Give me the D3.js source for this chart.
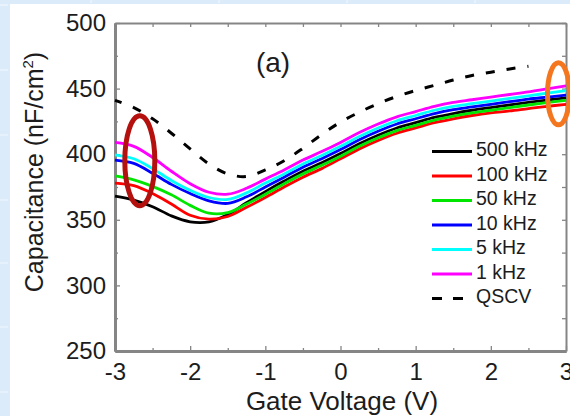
<!DOCTYPE html>
<html>
<head>
<meta charset="utf-8">
<script src="https://cdn.jsdelivr.net/npm/d3@7"></script>
<style>
  html, body { margin: 0; padding: 0; background: #dcebf9; }
  svg { display: block; }
  text { font-family: "Liberation Sans", Arial, sans-serif; fill: #1c1c1c; }
</style>
</head>
<body>
<svg id="chart" width="570" height="416"></svg>
<script>
// Gate voltage sweep (V) shared by the frequency curves
const gateVoltage = [-3, -2.75, -2.5, -2.25, -2, -1.75, -1.5, -1.25, -1, -0.75, -0.5, -0.25,
                     0, 0.25, 0.5, 0.75, 1, 1.25, 1.5, 1.75, 2, 2.25, 2.5, 2.75, 3];

// Capacitance (nF/cm^2) at each frequency
const cap500kHz = [368, 365, 360, 353, 348.5, 348.5, 354, 363, 371.5, 379.5, 387, 393.5,
                   400.5, 408, 414.5, 420, 424, 428, 431, 433.5, 435.5, 437.5, 439.5, 441.3, 443];
const cap100kHz = [378, 376, 370, 362, 353.5, 350.5, 352.5, 359.5, 367, 375, 382.5, 389,
                   396.5, 404, 410.5, 416, 420, 424, 427, 429.5, 431.5, 433, 434.8, 436.5, 438];
const cap50kHz  = [383.5, 380.5, 375.5, 369, 361, 355, 355.5, 362, 369.5, 377.5, 385, 391.5,
                   398.5, 406, 412.5, 418, 422, 426, 429, 431.5, 433.5, 435.5, 437.5, 439.3, 441];
const cap10kHz  = [395.5, 393, 385.5, 377, 370, 364.5, 362.5, 367.5, 375, 382.5, 390, 396.5,
                   403.5, 411, 417.5, 423, 427, 431, 434, 436, 438, 440, 442, 443.5, 445];
const cap5kHz   = [399.5, 396.5, 389, 380, 372.5, 367, 365.5, 370.5, 378, 385, 392.5, 399,
                   406, 413.5, 420, 425.5, 429.5, 433.5, 436.5, 438.5, 440.5, 442.5, 444.5, 446.5, 448.5];
const cap1kHz   = [409, 406, 397.5, 387, 377.5, 371, 369.5, 374, 381, 388, 395.5, 402,
                   409, 416.5, 423, 428.5, 432.5, 436.5, 439.5, 441.5, 443.5, 445.5, 447.5, 449.8, 452];

// Quasi-static C-V sweep
const qscvVoltage = [-3, -2.75, -2.5, -2.25, -2, -1.75, -1.5, -1.25, -1, -0.75, -0.5, -0.25,
                     0, 0.25, 0.5, 0.75, 1, 1.25, 1.5, 1.75, 2, 2.25, 2.5];
const capQSCV = [441, 435.5, 427, 416, 404, 392.5, 385, 383, 388, 395, 404.5, 415,
                 424.5, 432, 438.5, 444, 448.5, 452.5, 456.5, 460, 462.5, 465, 467];

const seriesNames  = ["500 kHz", "100 kHz", "50 kHz", "10 kHz", "5 kHz", "1 kHz", "QSCV"];
const seriesColors = ["#000000", "#ff0000", "#00e600", "#0000ff", "#00ffff", "#ff00ff", "#000000"];

const xTicks = [-3, -2, -1, 0, 1, 2, 3];
const xMinorTicks = [-2.5, -1.5, -0.5, 0.5, 1.5, 2.5];
const yTicks = [250, 300, 350, 400, 450, 500];
const yMinorTicks = [275, 325, 375, 425, 475];

const svg = d3.select("#chart");

// page backdrop: light blue frame around a white panel
svg.append("rect").attr("width", 570).attr("height", 416).attr("fill", "#dcebf9");
const marks = svg.append("g").attr("stroke", "#eef6fd").attr("stroke-width", 1.2);
[5, 70, 135, 200, 263, 327, 392].forEach(v =>
  marks.append("line").attr("x1", 0).attr("x2", 8).attr("y1", v).attr("y2", v));
[91, 219, 347, 475].forEach(v =>
  marks.append("line").attr("x1", v).attr("x2", v).attr("y1", 0).attr("y2", 3));
svg.append("rect").attr("x", 10).attr("y", 4).attr("width", 560).attr("height", 412).attr("fill", "#ffffff");

const x = d3.scaleLinear().domain([-3, 3]).range([115, 566]);
const y = d3.scaleLinear().domain([250, 500]).range([351, 23]);

const axisColor = "#858585";
function styleAxis(g, width) {
  g.select(".domain").attr("stroke", axisColor).attr("stroke-width", width);
  g.selectAll(".tick line").attr("stroke", axisColor).attr("stroke-width", 1.3);
}

// bottom axis with labels
const gx = svg.append("g").attr("transform", `translate(0,${y(250)})`)
  .call(d3.axisBottom(x).tickValues(xTicks).tickSize(-5).tickSizeOuter(0).tickPadding(12)
    .tickFormat(d => d < 0 ? "-" + Math.abs(d) : d));
gx.selectAll("text").attr("font-size", 24).attr("fill", "#1c1c1c");
styleAxis(gx, 3);
const gxm = svg.append("g").attr("transform", `translate(0,${y(250)})`)
  .call(d3.axisBottom(x).tickValues(xMinorTicks).tickSize(-3).tickSizeOuter(0).tickFormat(""));
styleAxis(gxm, 3);

// left axis with labels
const gy = svg.append("g").attr("transform", `translate(${x(-3)},0)`)
  .call(d3.axisLeft(y).tickValues(yTicks).tickSize(-5).tickSizeOuter(0).tickPadding(9));
gy.selectAll("text").attr("font-size", 24).attr("fill", "#1c1c1c");
styleAxis(gy, 3);
const gym = svg.append("g").attr("transform", `translate(${x(-3)},0)`)
  .call(d3.axisLeft(y).tickValues(yMinorTicks).tickSize(-3).tickSizeOuter(0).tickFormat(""));
styleAxis(gym, 3);

// top and right mirror axes, ticks only
const gt = svg.append("g").attr("transform", `translate(0,${y(500)})`)
  .call(d3.axisTop(x).tickValues(xTicks.concat(xMinorTicks)).tickSize(-4).tickSizeOuter(0).tickFormat(""));
styleAxis(gt, 2);
const gr = svg.append("g").attr("transform", `translate(${x(3)},0)`)
  .call(d3.axisRight(y).tickValues(yTicks.concat(yMinorTicks)).tickSize(-4).tickSizeOuter(0).tickFormat(""));
styleAxis(gr, 2);

// curves
const line = d3.line().x(d => x(d[0])).y(d => y(d[1])).curve(d3.curveCatmullRom.alpha(0.5));
const freqSeries = [cap500kHz, cap100kHz, cap50kHz, cap10kHz, cap5kHz, cap1kHz];
const plot = svg.append("g");
freqSeries.forEach((vals, i) => {
  plot.append("path")
    .attr("d", line(gateVoltage.map((v, j) => [v, vals[j]])))
    .attr("fill", "none")
    .attr("stroke", seriesColors[i])
    .attr("stroke-width", 2.8)
    .attr("stroke-linejoin", "round");
});
plot.append("path")
  .attr("d", line(qscvVoltage.map((v, j) => [v, capQSCV[j]])))
  .attr("fill", "none")
  .attr("stroke", seriesColors[6])
  .attr("stroke-width", 3)
  .attr("stroke-dasharray", "9,12")
  .attr("stroke-dashoffset", 2);

// highlight ellipses
svg.append("ellipse")
  .attr("cx", x(-2.67)).attr("cy", y(395)).attr("rx", 15).attr("ry", 45)
  .attr("fill", "none").attr("stroke", "#b3100e").attr("stroke-width", 5);
svg.append("ellipse")
  .attr("cx", x(2.9)).attr("cy", y(446)).attr("rx", 11).attr("ry", 31)
  .attr("fill", "none").attr("stroke", "#f4771f").attr("stroke-width", 5);

// legend
const legend = svg.append("g");
seriesNames.forEach((name, i) => {
  const ly = 151.5 + i * 24.5;
  legend.append("line")
    .attr("x1", 432).attr("x2", 472).attr("y1", ly).attr("y2", ly)
    .attr("stroke", seriesColors[i])
    .attr("stroke-width", 3)
    .attr("stroke-dasharray", name === "QSCV" ? "10,11" : null);
  legend.append("text")
    .attr("x", 476).attr("y", ly - 2).attr("dy", "0.35em")
    .attr("font-size", 19.5)
    .text(name);
});

// panel label
svg.append("text").attr("x", 273).attr("y", 72).attr("text-anchor", "middle")
  .attr("font-size", 28).text("(a)");

// axis titles
svg.append("text").attr("x", 342).attr("y", 410).attr("text-anchor", "middle")
  .attr("font-size", 26).text("Gate Voltage (V)");
const yt = svg.append("text")
  .attr("transform", "translate(43,172) rotate(-90)")
  .attr("text-anchor", "middle")
  .attr("font-size", 25);
yt.append("tspan").text("Capacitance (nF/cm");
yt.append("tspan").attr("font-size", 15).attr("dy", -10).text("2");
yt.append("tspan").attr("dy", 10).text(")");
</script>
</body>
</html>
